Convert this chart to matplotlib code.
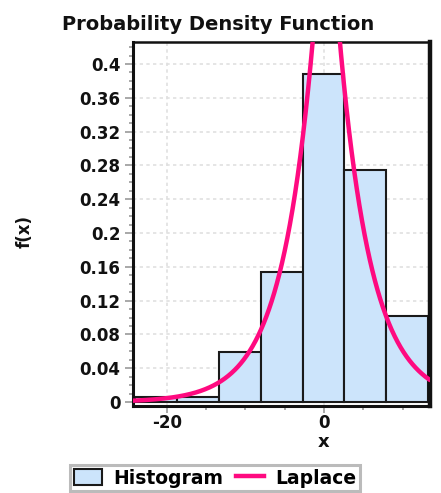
import numpy as np
import matplotlib
matplotlib.use("Agg")
import matplotlib.pyplot as plt
from matplotlib.ticker import MultipleLocator
from matplotlib.patches import Patch
from matplotlib.lines import Line2D

# Data
bin_start = -24.05
bin_width = 5.333
hist_heights = [0.0065, 0.0065, 0.059, 0.154, 0.388, 0.275, 0.102]
lap_mu = 0.3
lap_b = 4.1
x_ticks = [-20, 0]
y_ticks = [0, 0.04, 0.08, 0.12, 0.16, 0.2, 0.24, 0.28, 0.32, 0.36, 0.4]
y_tick_labels = ["0", "0.04", "0.08", "0.12", "0.16", "0.2", "0.24", "0.28", "0.32", "0.36", "0.4"]

fig = plt.figure(figsize=(4.41, 4.93), dpi=100)
ax = fig.add_axes([133/441, 1-406/493, (430-133)/441, (406-42)/493])

edges = bin_start + bin_width * np.arange(len(hist_heights) + 1)
ax.bar(edges[:-1], hist_heights, width=bin_width, align='edge',
       color='#cce4fb', edgecolor='#1a1a1a', linewidth=1.5, zorder=2)

xs = np.linspace(-24.3, 13.5, 800)
ys = bin_width * np.exp(-np.abs(xs - lap_mu) / lap_b) / (2 * lap_b)
ax.plot(xs, ys, color='#ff0a80', linewidth=3.2, zorder=3, solid_capstyle='round')

ax.set_xlim(-24.3, 13.5)
ax.set_ylim(-0.0047, 0.426)

ax.set_xticks(x_ticks)
ax.set_xticklabels([str(t) for t in x_ticks])
ax.xaxis.set_minor_locator(MultipleLocator(5))
ax.set_yticks(y_ticks)
ax.set_yticklabels(y_tick_labels)
ax.yaxis.set_minor_locator(MultipleLocator(0.01))

ax.tick_params(axis='y', which='major', direction='out', length=6, width=1.2,
               color='#999999', labelsize=12, labelcolor='#111111', pad=3)
ax.tick_params(axis='x', which='major', direction='out', length=5, width=1.2,
               color='#999999', labelsize=12, labelcolor='#111111', pad=1)
ax.tick_params(axis='both', which='minor', direction='out', length=3, width=1.2,
               color='#999999')
for lab in ax.get_xticklabels() + ax.get_yticklabels():
    lab.set_fontweight('bold')
    lab.set_fontfamily('DejaVu Sans')

ax.grid(True, which='major', axis='both', color='#e0e0e0', linestyle=(0, (2, 2)),
        linewidth=1.2, zorder=0)
ax.set_axisbelow(True)

ax.spines['left'].set_linewidth(2.2)
ax.spines['bottom'].set_linewidth(2.2)
ax.spines['top'].set_linewidth(1.8)
ax.spines['right'].set_linewidth(3.2)
for s in ax.spines.values():
    s.set_color('#111111')

fig.text(218/441, 1-25/493, "Probability Density Function", ha='center', va='center',
         fontsize=14, fontweight='bold', family='DejaVu Sans', color='#111111')
fig.text(25/441, 1-232/493, "f(x)", rotation=90, ha='center', va='center',
         fontsize=12, fontweight='bold', family='DejaVu Sans', color='#111111')
fig.text(324/441, 1-442/493, "x", ha='center', va='center',
         fontsize=13, fontweight='bold', family='DejaVu Sans', color='#111111')

handles = [Patch(facecolor='#cce4fb', edgecolor='#1a1a1a', linewidth=1.5),
           Line2D([0], [0], color='#ff0a80', linewidth=3.2)]
leg = fig.legend(handles, ["Histogram", "Laplace"], ncol=2,
                 loc='center', bbox_to_anchor=(215/441, 1-478/493),
                 frameon=True, fancybox=False, handlelength=1.5, handleheight=0.9,
                 columnspacing=0.7, handletextpad=0.6, borderpad=0.2, borderaxespad=0,
                 prop={'family': 'DejaVu Sans', 'weight': 'bold', 'size': 13.5})
leg.get_frame().set_edgecolor('#aaaaaa')
leg.get_frame().set_linewidth(2.2)

fig.savefig("out.png", dpi=100)
